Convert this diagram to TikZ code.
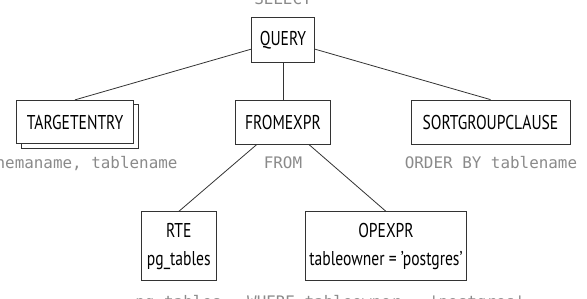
\documentclass[tikz,border=0pt]{standalone}
\usepackage{fontspec}
\setmainfont{PT Sans}[FakeStretch=0.78]
\newfontfamily\labelfont{DejaVu Sans Mono}
\usetikzlibrary{shadows}
\definecolor{edgecol}{HTML}{333333}
\definecolor{labcol}{HTML}{8A8A8A}
\tikzset{
  box/.style={draw=edgecol, line width=0.8pt, fill=white, inner sep=0pt,
    font=\fontsize{20}{27.6}\selectfont, align=center},
  shadowbox/.style={box, copy shadow={shadow xshift=4.5pt, shadow yshift=-4.5pt, draw=edgecol, fill=white, line width=0.8pt}},
  lab/.style={anchor=base, inner sep=0pt, text=labcol, font=\labelfont\fontsize{15.9}{19}\selectfont},
  conn/.style={draw=edgecol, line width=0.8pt}
}
\begin{document}
\begin{tikzpicture}[x=1pt,y=-1pt]
\useasboundingbox (0,0) rectangle (587,298);
\node[box, minimum width=63pt, minimum height=45pt] (Q) at (283,40) {QUERY};
\node[shadowbox, minimum width=117pt, minimum height=43.5pt] (T) at (75,122) {TARGETENTRY};
\node[box, minimum width=95pt, minimum height=44pt] (F) at (283,122) {FROMEXPR};
\node[box, minimum width=159pt, minimum height=44pt] (S) at (490.5,122) {SORTGROUPCLAUSE};
\node[box, minimum width=75.5pt, minimum height=69pt] (R) at (178.8,246.3) {RTE\\pg\_tables};
\node[box, minimum width=161pt, minimum height=69pt] (O) at (386,246.3) {OPEXPR\\tableowner = 'postgres'};

\draw[conn] (Q) -- (T.north);
\draw[conn] (Q) -- (F);
\draw[conn] (Q) -- (S.north);
\draw[conn] (F) -- (R.north);
\draw[conn] (F) -- (O.north);

\node[lab] (lq) at (283,4) {SELECT};
\node[lab] (lt) at (77,168.3) {schemaname, tablename};
\node[lab] (lf) at (283,168.3) {FROM};
\node[lab] (ls) at (491,168.3) {ORDER BY tablename};
\node[lab] (lr) at (178.5,307.5) {pg\_tables};
\node[lab] (lo) at (386,307.5) {WHERE tableowner = 'postgres'};
\end{tikzpicture}
\end{document}
